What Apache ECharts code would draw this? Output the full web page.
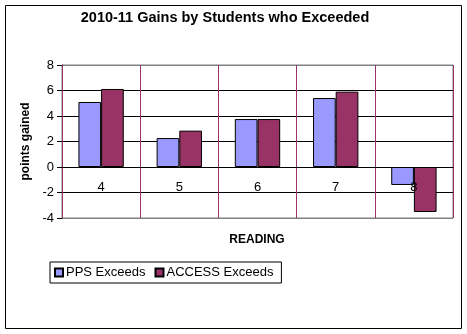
<!DOCTYPE html>
<html><head><meta charset="utf-8">
<script src="https://cdn.jsdelivr.net/npm/echarts@6/dist/echarts.min.js"></script>
<style>html,body{margin:0;padding:0;background:#fff}#c{width:467px;height:334px}</style>
</head><body><div id="c"></div>
<script>
const categories = ['4','5','6','7','8'];
const ppsExceeds = [5.1, 2.27, 3.76, 5.41, -1.41];
const accessExceeds = [6.12, 2.85, 3.76, 5.91, -3.53];
const yTicks = {min: -4, max: 8, interval: 2};

const chart = echarts.init(document.getElementById('c'));
const F = 'Liberation Sans, Arial, sans-serif';
chart.setOption({
  animation: false,
  backgroundColor: '#fff',
  graphic: [
    {type:'rect', shape:{x:5.5,y:5.5,width:456,height:323}, style:{fill:'none',stroke:'#000',lineWidth:1}, z:-1},
    {type:'text', style:{text:'READING', x:257, y:240, align:'center', verticalAlign:'middle',
      font:'bold 12px Liberation Sans, Arial, sans-serif', fill:'#000'}},
    {type:'text', style:{text:'2010-11 Gains by Students who Exceeded', x:225, y:18, align:'center', verticalAlign:'middle',
      font:'bold 14.5px Liberation Sans, Arial, sans-serif', fill:'#000'}}
  ],
  grid: {left:62, right:14, top:65, bottom:116, show:true, borderColor:'#808080', borderWidth:1,
    outerBoundsMode:'none', containLabel:false},
  legend: {left:50, top:262, padding:[4,8,4,4], itemGap:9, itemWidth:8, itemHeight:8,
    borderColor:'#000', borderWidth:1, icon:'rect',
    textStyle:{fontFamily:F, fontSize:13, color:'#000', padding:[0,0,0,-2]}},
  xAxis: {type:'category', data:categories, z:3,
    axisLine:{onZero:true, lineStyle:{color:'#000', width:1}},
    axisTick:{show:false},
    axisLabel:{fontFamily:F, fontSize:13, color:'#000', margin:-37},
    splitLine:{show:true, lineStyle:{color:'#993366', width:1}}},
  yAxis: {type:'value', min:yTicks.min, max:yTicks.max, interval:yTicks.interval,
    name:'points gained', nameLocation:'middle', nameGap:25,
    nameTextStyle:{fontFamily:F, fontSize:12, fontWeight:'bold', color:'#000'},
    axisLine:{show:true, lineStyle:{color:'#000'}},
    axisTick:{show:true, inside:false, length:5, lineStyle:{color:'#000'}},
    axisLabel:{fontFamily:F, fontSize:13, color:'#000', margin:8},
    splitLine:{show:true, lineStyle:{color:['#808080','#000','#000','#000','#000','#000','#808080'], width:1}}},
  series: [
    {name:'PPS Exceeds', type:'bar', data:ppsExceeds, barGap:'0%', barCategoryGap:'42%',
      itemStyle:{color:'#9999FF', borderColor:'#000', borderWidth:1}},
    {name:'ACCESS Exceeds', type:'bar', data:accessExceeds,
      itemStyle:{color:'#993366', borderColor:'#000', borderWidth:1}}
  ]
});
</script></body></html>
